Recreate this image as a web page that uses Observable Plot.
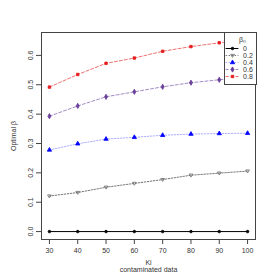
<!DOCTYPE html>
<html><head><meta charset="utf-8">
<script src="https://cdn.jsdelivr.net/npm/d3@7"></script>
<script src="https://cdn.jsdelivr.net/npm/@observablehq/plot@0.6"></script>
<style>
body{margin:0;background:#fff;}
#wrap{position:relative;width:280px;height:280px;}
#legend{position:absolute;left:224px;top:32px;}
</style>
</head><body><div id="wrap"><div id="chart"></div><div id="legend"></div></div>
<script>
const ki = [30, 40, 50, 60, 70, 80, 90, 100];
const seriesNames = ["0", "0.2", "0.4", "0.6", "0.8"];
const beta0  = [0, 0, 0, 0, 0, 0, 0, 0];
const beta02 = [0.121, 0.133, 0.151, 0.164, 0.177, 0.192, 0.199, 0.206];
const beta04 = [0.278, 0.299, 0.315, 0.321, 0.328, 0.332, 0.334, 0.335];
const beta06 = [0.393, 0.428, 0.459, 0.476, 0.493, 0.507, 0.517, 0.524];
const beta08 = [0.492, 0.535, 0.573, 0.591, 0.614, 0.630, 0.643, 0.653];
const yTicks = [0.0, 0.1, 0.2, 0.3, 0.4, 0.5, 0.6];
const xTicks = [30, 40, 50, 60, 70, 80, 90, 100];

const colors = ["#000000", "#666666", "#0000ff", "#6a3d9a", "#e31a1c"];
const lineColors = ["#000000", "#777777", "#b0b0ff", "#a58cc8", "#f07070"];
const dashes = [null, "1.5,1.5", "1.5,1.5", "3,2", "3,2"];
const triDown = {draw(ctx, size){const r=Math.sqrt(size)*0.62; ctx.moveTo(-r, -r*0.6); ctx.lineTo(r, -r*0.6); ctx.lineTo(0, r*1.0); ctx.closePath();}};
const symbols = ["circle", triDown, "triangle", "diamond", "square"];
const fills = ["#000000", "none", "#0000ff", "#6a3d9a", "#e31a1c"];
const sizes = [1.3, 1.7, 1.6, 1.6, 1.4];

const allSeries = [beta0, beta02, beta04, beta06, beta08];
const data = allSeries.flatMap((vals, s) => vals.map((v, i) => ({k: ki[i], v, s})));

const font = "'Liberation Sans', Arial, sans-serif";
const marks = [Plot.frame({stroke: "#444", strokeWidth: 1})];
seriesNames.forEach((name, s) => {
  const d = data.filter(e => e.s === s);
  marks.push(Plot.line(d, {x: "k", y: "v", stroke: lineColors[s], strokeWidth: 1, strokeDasharray: dashes[s]}));
  marks.push(Plot.dot(d, {x: "k", y: "v", symbol: () => symbols[s], r: sizes[s], fill: fills[s], stroke: colors[s], strokeWidth: 0.8}));
});
marks.push(Plot.axisY({ticks: yTicks, tickSize: 5, tickRotate: -90, tickPadding: 4, tickFormat: d3.format(".1f"), label: "Optimal β", labelAnchor: "center", labelArrow: "none", labelOffset: 30, stroke: "#444"}));
marks.push(Plot.axisX({ticks: xTicks, tickSize: 5, tickPadding: 4, tickFormat: d => String(d), label: "Ki\ncontaminated data", labelAnchor: "center", labelArrow: "none", labelOffset: 32, stroke: "#444"}));

const chart = Plot.plot({
  width: 280, height: 280,
  marginLeft: 41, marginRight: 25, marginTop: 32, marginBottom: 41,
  style: {fontFamily: font, fontSize: "7px", color: "#333", background: "#fff"},
  x: {domain: [27.2, 102.8]},
  y: {domain: [-0.027, 0.678]},
  marks
});
document.getElementById("chart").appendChild(chart);

// legend
const legData = seriesNames.map((name, s) => ({name, s}));
const legMarks = [
  Plot.frame({fill: "#fff", stroke: "#444", strokeWidth: 1}),
  Plot.text(["βₙ"], {frameAnchor: "top", dy: 5, dx: 2, fontSize: 7, fill: "#333"})
];
seriesNames.forEach((name, s) => {
  const d = legData.filter(e => e.s === s);
  legMarks.push(Plot.ruleY(d, {y: "name", x1: 0.05, x2: 0.45, stroke: lineColors[s], strokeDasharray: dashes[s]}));
  legMarks.push(Plot.dot(d, {x: 0.25, y: "name", symbol: () => symbols[s], r: sizes[s], fill: fills[s], stroke: colors[s], strokeWidth: 0.8}));
  legMarks.push(Plot.text(d, {x: 0.58, y: "name", text: "name", textAnchor: "start", fontSize: 7, fill: "#333"}));
});
const legend = Plot.plot({
  width: 32, height: 52, margin: 0,
  style: {fontFamily: font, background: "transparent", overflow: "visible"},
  x: {domain: [0, 1], axis: null},
  y: {type: "point", domain: seriesNames, range: [15, 44], padding: 0, axis: null},
  marks: legMarks
});
document.getElementById("legend").appendChild(legend);
</script>
</body></html>
